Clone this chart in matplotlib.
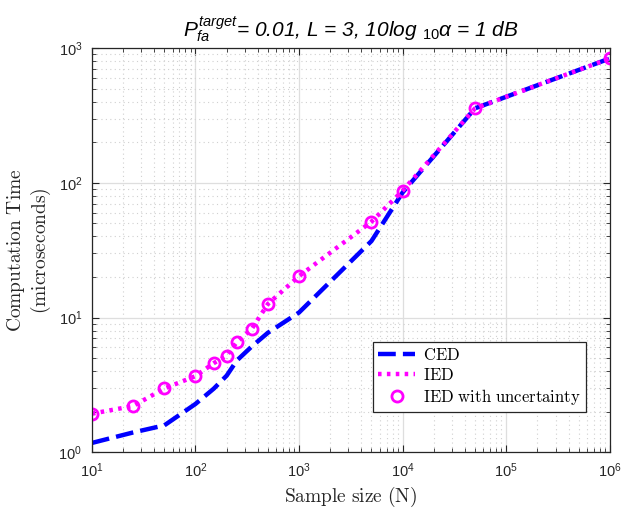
import numpy as np
import matplotlib.pyplot as plt

plt.rcParams['mathtext.fontset'] = 'custom'
plt.rcParams['mathtext.rm'] = 'Liberation Sans'
plt.rcParams['mathtext.it'] = 'Liberation Sans:italic'
plt.rcParams['font.family'] = 'Liberation Sans'

# sample sizes and timing (microseconds)
N = [10, 25, 50, 100, 150, 200, 250, 350, 500, 1000, 5000, 10000, 50000, 1000000]
t_ced = [1.17, 1.4, 1.58, 2.28, 2.96, 3.7, 4.78, 6.1, 7.7, 10.9, 37, 85, 358, 840]
t_ied = [1.93, 2.2, 2.97, 3.67, 4.58, 5.2, 6.55, 8.25, 12.6, 20.3, 51.5, 87.5, 358, 840]

fig = plt.figure(figsize=(6.21, 5.08), dpi=100)
ax = fig.add_axes([0.148, 0.110, 0.834, 0.795])

ax.plot(N, t_ced, color='b', linestyle=(0, (4, 1.6)), linewidth=3.2, label=r'$\mathrm{CED}$')
ax.plot(N, t_ied, color='magenta', linestyle=(0, (0.8, 1.2)), linewidth=3.2, label=r'$\mathrm{IED}$')
ax.plot(N, t_ied, 'o', markerfacecolor='none', markeredgecolor='magenta', markersize=8,
        markeredgewidth=2, label=r'$\mathrm{IED\ with\ uncertainty}$')

ax.set_xscale('log')
ax.set_yscale('log')
ax.set_xlim(10, 1e6)
ax.set_ylim(1, 1e3)

ax.grid(True, which='major', color='#dedede', linestyle='-', linewidth=0.9)
ax.grid(True, which='minor', color='#d0d0d0', linestyle=(0, (1, 3)), linewidth=0.8)
ax.set_axisbelow(True)
ax.tick_params(which='both', direction='in', top=True, right=True, labelsize=10.5, colors='#262626')
ax.tick_params(which='major', length=5, pad=7)
ax.tick_params(which='minor', length=3)
for s in ax.spines.values():
    s.set_color('#262626')
    s.set_linewidth(0.9)

ax.set_xlabel(r'$\mathrm{Sample\ size\ (N)}$', fontsize=14, math_fontfamily='cm', color='#262626',
              labelpad=3)
ax.set_ylabel(r'$\mathrm{Computation\ Time}$' + '\n' + r'$\mathrm{(microseconds)}$', fontsize=14,
              math_fontfamily='cm', color='#262626', linespacing=1.1)
ax.set_title(r'$P_{fa}^{target}$= 0.01, L = 3, 10log $_{10}$$\alpha$ = 1 dB', fontsize=15,
             fontstyle='italic', pad=8)

leg = ax.legend(loc='lower right', bbox_to_anchor=(0.954, 0.099), borderaxespad=0, fancybox=False,
                edgecolor='#262626', framealpha=1, handlelength=2.2, borderpad=0.3,
                labelspacing=0.25, handletextpad=0.5, prop={'math_fontfamily': 'cm', 'size': 12})
leg.get_frame().set_linewidth(0.9)

fig.savefig('out.png', dpi=100)
